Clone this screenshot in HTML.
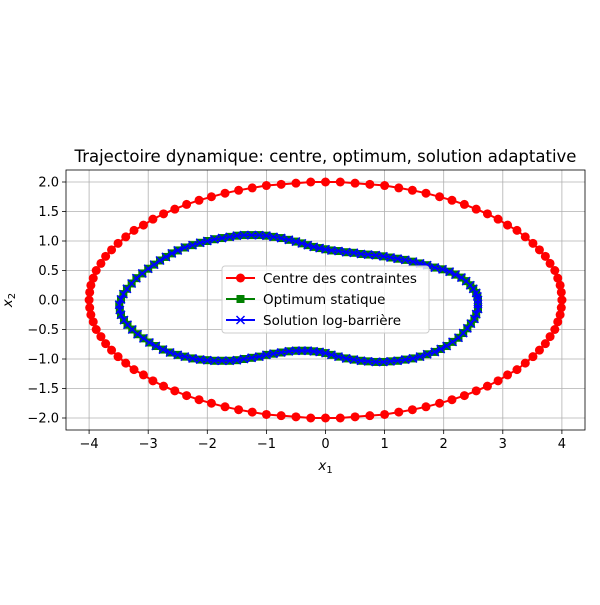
<!DOCTYPE html>
<html><head><meta charset="utf-8"><style>
body{margin:0;background:#fff;}
svg text{font-family:"DejaVu Sans","Liberation Sans",sans-serif;}
</style></head><body>
<svg id="chart" width="600" height="600" xmlns="http://www.w3.org/2000/svg">
<rect width="600" height="600" fill="#fff"/>
<g id="grid"></g><g id="series"></g><g id="axes"></g>
<text x="325.5" y="162" font-size="16.5" text-anchor="middle">Trajectoire dynamique: centre, optimum, solution adaptative</text>
<text x="325.5" y="470" font-size="13.5" text-anchor="middle" font-style="italic">x<tspan font-size="10" dy="3" font-style="normal">1</tspan></text>
<text transform="translate(12,300) rotate(-90)" font-size="13.5" text-anchor="middle" font-style="italic">x<tspan font-size="10" dy="3" font-style="normal">2</tspan></text>
<g>
<rect x="222" y="266" width="207" height="67" rx="3" fill="#fff" fill-opacity="0.8" stroke="#ccc"/>
<g><line x1="226" y1="278" x2="255" y2="278" stroke="red" stroke-width="2"/><circle cx="240.5" cy="278" r="4.5" fill="red"/><text x="263" y="283" font-size="13.5">Centre des contraintes</text></g>
<g><line x1="226" y1="299" x2="255" y2="299" stroke="green" stroke-width="2"/><rect x="236.5" y="295" width="8" height="8" fill="green"/><text x="263" y="304" font-size="13.5">Optimum statique</text></g>
<g><line x1="226" y1="320" x2="255" y2="320" stroke="blue" stroke-width="2"/><path d="M236.5,316L244.5,324M244.5,316L236.5,324" stroke="blue" stroke-width="1.5"/><text x="263" y="325" font-size="13.5">Solution log-barrière</text></g>
</g>
</svg>
<script>
const xTicks=[-4,-3,-2,-1,0,1,2,3,4];
const yTicks=[-2,-1.5,-1,-0.5,0,0.5,1,1.5,2];
const centreX=[4.00,3.99,3.97,3.93,3.88,3.80,3.72,3.62,3.51,3.38,3.24,3.08,2.92,2.74,2.55,2.35,2.14,1.93,1.70,1.47,1.24,1.00,0.75,0.50,0.25,
0,-0.25,-0.50,-0.75,-1.00,-1.24,-1.47,-1.70,-1.93,-2.14,-2.35,-2.55,-2.74,-2.92,-3.08,-3.24,-3.38,-3.51,-3.62,-3.72,-3.80,-3.88,-3.93,-3.97,-3.99,
-4.00,-3.99,-3.97,-3.93,-3.88,-3.80,-3.72,-3.62,-3.51,-3.38,-3.24,-3.08,-2.92,-2.74,-2.55,-2.35,-2.14,-1.93,-1.70,-1.47,-1.24,-1.00,-0.75,-0.50,-0.25,
0,0.25,0.50,0.75,1.00,1.24,1.47,1.70,1.93,2.14,2.35,2.55,2.74,2.92,3.08,3.24,3.38,3.51,3.62,3.72,3.80,3.88,3.93,3.97,3.99,4.00];
const centreY=[0,0.13,0.25,0.37,0.50,0.62,0.74,0.85,0.96,1.07,1.18,1.27,1.37,1.46,1.54,1.62,1.69,1.75,1.81,1.86,1.90,1.94,1.96,1.98,2.00,
2.00,2.00,1.98,1.96,1.94,1.90,1.86,1.81,1.75,1.69,1.62,1.54,1.46,1.37,1.27,1.18,1.07,0.96,0.85,0.74,0.62,0.50,0.37,0.25,0.13,
0,-0.13,-0.25,-0.37,-0.50,-0.62,-0.74,-0.85,-0.96,-1.07,-1.18,-1.27,-1.37,-1.46,-1.54,-1.62,-1.69,-1.75,-1.81,-1.86,-1.90,-1.94,-1.96,-1.98,-2.00,
-2.00,-2.00,-1.98,-1.96,-1.94,-1.90,-1.86,-1.81,-1.75,-1.69,-1.62,-1.54,-1.46,-1.37,-1.27,-1.18,-1.07,-0.96,-0.85,-0.74,-0.62,-0.50,-0.37,-0.25,-0.13,0];
const optX=[2.58,2.58,2.58,2.57,2.55,2.50,2.45,2.38,2.30,2.20,2.10,1.98,1.85,1.72,1.60,1.48,1.35,1.22,1.10,0.98,0.85,0.72,0.60,0.48,0.35,0.22,0.10,0.00,-0.10,-0.20,-0.30,-0.40,-0.50,-0.62,-0.75,-0.88,-1.00,-1.12,-1.25,-1.38,-1.50,-1.62,-1.75,-1.88,-2.00,-2.12,-2.25,-2.38,-2.50,-2.60,-2.70,-2.80,-2.90,-3.00,-3.10,-3.20,-3.28,-3.36,-3.42,-3.46,-3.49,-3.48,-3.46,-3.41,-3.35,-3.27,-3.18,-3.08,-2.98,-2.87,-2.75,-2.63,-2.50,-2.38,-2.25,-2.12,-2.00,-1.88,-1.75,-1.62,-1.50,-1.38,-1.25,-1.12,-1.00,-0.88,-0.75,-0.62,-0.50,-0.40,-0.30,-0.20,-0.10,0.00,0.10,0.22,0.35,0.48,0.60,0.72,0.85,0.98,1.10,1.22,1.35,1.48,1.60,1.72,1.85,1.95,2.05,2.15,2.25,2.33,2.40,2.46,2.52,2.55,2.58];
const optY=[-0.15,-0.07,0.00,0.06,0.12,0.19,0.25,0.32,0.38,0.43,0.48,0.52,0.55,0.59,0.62,0.65,0.68,0.70,0.72,0.74,0.76,0.77,0.78,0.80,0.81,0.83,0.84,0.86,0.88,0.90,0.93,0.96,0.99,1.02,1.05,1.07,1.09,1.10,1.10,1.10,1.09,1.07,1.05,1.03,1.00,0.97,0.93,0.89,0.84,0.79,0.73,0.67,0.60,0.53,0.45,0.37,0.28,0.19,0.10,0.01,-0.08,-0.17,-0.25,-0.34,-0.42,-0.50,-0.58,-0.65,-0.72,-0.78,-0.84,-0.89,-0.93,-0.96,-0.99,-1.01,-1.02,-1.03,-1.03,-1.03,-1.02,-1.00,-0.98,-0.96,-0.93,-0.91,-0.89,-0.87,-0.86,-0.86,-0.86,-0.87,-0.88,-0.90,-0.93,-0.96,-0.99,-1.01,-1.03,-1.04,-1.05,-1.05,-1.04,-1.03,-1.01,-0.99,-0.96,-0.92,-0.88,-0.83,-0.78,-0.71,-0.64,-0.56,-0.48,-0.40,-0.32,-0.24,-0.15];
const solX=[2.58,2.58,2.58,2.57,2.55,2.50,2.45,2.38,2.30,2.20,2.10,1.98,1.85,1.72,1.60,1.48,1.35,1.22,1.10,0.98,0.85,0.72,0.60,0.48,0.35,0.22,0.10,0.00,-0.10,-0.20,-0.30,-0.40,-0.50,-0.62,-0.75,-0.88,-1.00,-1.12,-1.25,-1.38,-1.50,-1.62,-1.75,-1.88,-2.00,-2.12,-2.25,-2.38,-2.50,-2.60,-2.70,-2.80,-2.90,-3.00,-3.10,-3.20,-3.28,-3.36,-3.42,-3.46,-3.49,-3.48,-3.46,-3.41,-3.35,-3.27,-3.18,-3.08,-2.98,-2.87,-2.75,-2.63,-2.50,-2.38,-2.25,-2.12,-2.00,-1.88,-1.75,-1.62,-1.50,-1.38,-1.25,-1.12,-1.00,-0.88,-0.75,-0.62,-0.50,-0.40,-0.30,-0.20,-0.10,0.00,0.10,0.22,0.35,0.48,0.60,0.72,0.85,0.98,1.10,1.22,1.35,1.48,1.60,1.72,1.85,1.95,2.05,2.15,2.25,2.33,2.40,2.46,2.52,2.55,2.58];
const solY=[-0.15,-0.07,0.00,0.06,0.12,0.19,0.25,0.32,0.38,0.43,0.48,0.52,0.55,0.59,0.62,0.65,0.68,0.70,0.72,0.74,0.76,0.77,0.78,0.80,0.81,0.83,0.84,0.86,0.88,0.90,0.93,0.96,0.99,1.02,1.05,1.07,1.09,1.10,1.10,1.10,1.09,1.07,1.05,1.03,1.00,0.97,0.93,0.89,0.84,0.79,0.73,0.67,0.60,0.53,0.45,0.37,0.28,0.19,0.10,0.01,-0.08,-0.17,-0.25,-0.34,-0.42,-0.50,-0.58,-0.65,-0.72,-0.78,-0.84,-0.89,-0.93,-0.96,-0.99,-1.01,-1.02,-1.03,-1.03,-1.03,-1.02,-1.00,-0.98,-0.96,-0.93,-0.91,-0.89,-0.87,-0.86,-0.86,-0.86,-0.87,-0.88,-0.90,-0.93,-0.96,-0.99,-1.01,-1.03,-1.04,-1.05,-1.05,-1.04,-1.03,-1.01,-0.99,-0.96,-0.92,-0.88,-0.83,-0.78,-0.71,-0.64,-0.56,-0.48,-0.40,-0.32,-0.24,-0.15];

const NS='http://www.w3.org/2000/svg';
const L=66,R=585,T=170,B=430;
function sx(v){return 325.5+59.1*v;}
function sy(v){return 300-59*v;}
function mk(tag,attrs,parent){const e=document.createElementNS(NS,tag);for(const k in attrs)e.setAttribute(k,attrs[k]);parent.appendChild(e);return e;}
const grid=document.getElementById('grid'),axes=document.getElementById('axes'),series=document.getElementById('series');
xTicks.forEach(t=>{
  const g=mk('line',{x1:sx(t),x2:sx(t),y1:T,y2:B,stroke:'#b0b0b0','stroke-width':0.8},grid);
  
  
  mk('line',{x1:sx(t),x2:sx(t),y1:B,y2:B+4,stroke:'#000','stroke-width':0.8},axes);
  const tx=mk('text',{x:sx(t),y:B+18,'font-size':13,'text-anchor':'middle'},axes);
  tx.textContent=(t<0?'\u2212':'')+Math.abs(t);
  
  
});
yTicks.forEach(t=>{
  const g=mk('line',{x1:L,x2:R,y1:sy(t),y2:sy(t),stroke:'#b0b0b0','stroke-width':0.8},grid);
  
  
  mk('line',{x1:L-4,x2:L,y1:sy(t),y2:sy(t),stroke:'#000','stroke-width':0.8},axes);
  const tx=mk('text',{x:L-7,y:sy(t)+4.5,'font-size':13,'text-anchor':'end'},axes);
  tx.textContent=(t<0?'\u2212':'')+Math.abs(t).toFixed(1);
  
  
});
const frame=mk('rect',{x:L,y:T,width:R-L,height:B-T,fill:'none',stroke:'#000','stroke-width':0.8},axes);



function drawSeries(xs,ys,color,name,marker){
  const g=mk('g',{},series);
  
  
  const pts=xs.map((x,i)=>sx(x).toFixed(1)+','+sy(ys[i]).toFixed(1)).join(' ');
  mk('polyline',{points:pts,fill:'none',stroke:color,'stroke-width':2},g);
  xs.forEach((x,i)=>{
    const cx=sx(x),cy=sy(ys[i]);let m;
    if(marker==='o')m=mk('circle',{cx:cx,cy:cy,r:4.5,fill:color},g);
    else if(marker==='s')m=mk('rect',{x:cx-4,y:cy-4,width:8,height:8,fill:color},g);
    else m=mk('path',{d:`M${cx-4},${cy-4}L${cx+4},${cy+4}M${cx+4},${cy-4}L${cx-4},${cy+4}`,stroke:color,'stroke-width':1.5},g);
    
    
  });
}
drawSeries(centreX,centreY,'red','centre-series','o');
drawSeries(optX,optY,'green','optimum-series','s');
drawSeries(solX,solY,'blue','solution-series','x');
</script>
</body></html>
